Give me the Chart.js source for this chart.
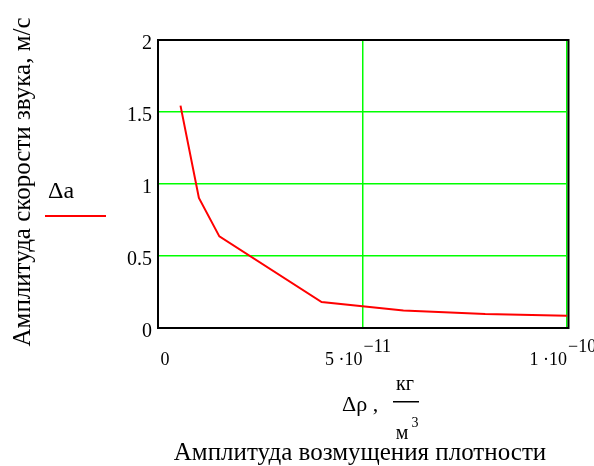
<!DOCTYPE html>
<html>
<head>
<meta charset="utf-8">
<script src="https://cdn.jsdelivr.net/npm/chart.js@4.4.0/dist/chart.umd.min.js"></script>
<style>
  html, body { margin: 0; padding: 0; background: #fff; }
  #box { width: 594px; height: 466px; }
</style>
</head>
<body>
<div id="box"><canvas id="chart"></canvas></div>
<script>
// данные графика
var rho = [5.5e-12, 1e-11, 1.5e-11, 4e-11, 6e-11, 8e-11, 1e-10];
var da = [1.544, 0.903, 0.636, 0.18, 0.122, 0.097, 0.085];
var yTicks = [0, 0.5, 1, 1.5, 2];
var xTicks = [0, 5e-11, 1e-10];
var xTickBase = ["0", "5 \u00b710", "1 \u00b710"];
var xTickExp = ["", "\u221211", "\u221210"];
var seriesLabel = "\u0394a";
var yTitle = "Амплитуда скорости звука, м/с";
var xTitle = "Амплитуда возмущения плотности";

var serif = "'Liberation Serif', 'Times New Roman', serif";
var green = "rgb(0, 255, 0)";

// плагин для рамки, подписей оси x и легенды
var mathcadPlugin = {
  id: "mathcad",
  afterDraw: function (chart) {
    var ctx = chart.ctx;
    var a = chart.chartArea;
    var xs = chart.scales.x;
    ctx.save();
    // рамка
    ctx.strokeStyle = "#000";
    ctx.lineWidth = 2;
    ctx.strokeRect(a.left, a.top, a.right - a.left + 1.5, a.bottom - a.top);

    // подписи оси x
    ctx.fillStyle = "#000";
    ctx.textBaseline = "alphabetic";
    for (var i = 0; i < xTicks.length; i++) {
      var px = xs.getPixelForValue(xTicks[i]);
      if (i === 0) {
        ctx.font = "18px " + serif;
        ctx.textAlign = "center";
        ctx.fillText(xTickBase[i], px + 7, 365);
        continue;
      }
      ctx.font = "18px " + serif;
      ctx.textAlign = "right";
      ctx.fillText(xTickBase[i], px, 365);
      ctx.font = "18px " + serif;
      ctx.textAlign = "left";
      ctx.fillText(xTickExp[i], px + 1, 352);
    }

    // заголовок оси x: Δρ , кг/м3
    ctx.font = "22px " + serif;
    ctx.textAlign = "left";
    ctx.fillText("\u0394\u03c1 ,", 342, 411);
    ctx.font = "20px " + serif;
    ctx.textAlign = "center";
    ctx.fillText("кг", 405, 390);
    ctx.fillRect(393, 401, 26, 1.5);
    ctx.fillText("м", 402, 439);
    ctx.font = "14px " + serif;
    ctx.fillText("3", 415, 427);

    ctx.font = "25px " + serif;
    ctx.textAlign = "center";
    ctx.fillText(xTitle, 360, 460);

    // заголовок оси y
    ctx.save();
    ctx.translate(30, 182);
    ctx.rotate(-Math.PI / 2);
    ctx.font = "25px " + serif;
    ctx.textAlign = "center";
    ctx.fillText(yTitle, 0, 0);
    ctx.restore();

    // легенда
    ctx.font = "24px " + serif;
    ctx.textAlign = "left";
    ctx.fillText(seriesLabel, 48, 198);
    ctx.strokeStyle = "#ff0000";
    ctx.lineWidth = 2;
    ctx.beginPath();
    ctx.moveTo(45, 216);
    ctx.lineTo(106, 216);
    ctx.stroke();
    ctx.restore();
  }
};

function buildPoints() {
  var pts = [];
  for (var i = 0; i < rho.length; i++) {
    pts.push({ x: rho[i], y: da[i] });
  }
  return pts;
}

var ctx = document.getElementById("chart").getContext("2d");
var chart = new Chart(ctx, {
  type: "scatter",
  data: {
    datasets: [{
      label: seriesLabel,
      data: buildPoints(),
      showLine: true,
      borderColor: "#ff0000",
      backgroundColor: "#ff0000",
      borderWidth: 2,
      pointRadius: 0,
      tension: 0
    }]
  },
  options: {
    responsive: true,
    maintainAspectRatio: false,
    animation: false,
    devicePixelRatio: 1,
    layout: { padding: { top: 40, right: 27, left: 0, bottom: 0 } },
    plugins: {
      legend: { display: false },
      tooltip: { enabled: false }
    },
    scales: {
      x: {
        type: "linear",
        min: 0,
        max: 1e-10,
        afterBuildTicks: function (scale) {
          scale.ticks = xTicks.map(function (v) { return { value: v }; });
        },
        afterFit: function (scale) { scale.height = 138; },
        ticks: { display: false },
        border: { display: false },
        grid: {
          color: function (c) { return c.tick && c.tick.value === 0 ? "rgba(0,0,0,0)" : green; },
          lineWidth: 1.5,
          drawTicks: false
        }
      },
      y: {
        type: "linear",
        min: 0,
        max: 2,
        afterBuildTicks: function (scale) {
          scale.ticks = yTicks.map(function (v) { return { value: v }; });
        },
        afterFit: function (scale) { scale.width = 158; },
        ticks: {
          color: "#000",
          font: { family: serif, size: 20 },
          padding: 6,
          labelOffset: 4,
          callback: function (v) { return String(v); }
        },
        border: { display: false },
        grid: {
          color: function (c) {
            var v = c.tick ? c.tick.value : 0;
            return (v === 0 || v === 2) ? "rgba(0,0,0,0)" : green;
          },
          lineWidth: 1.5,
          drawTicks: false
        }
      }
    }
  },
  plugins: [mathcadPlugin]
});
</script>
</body>
</html>
